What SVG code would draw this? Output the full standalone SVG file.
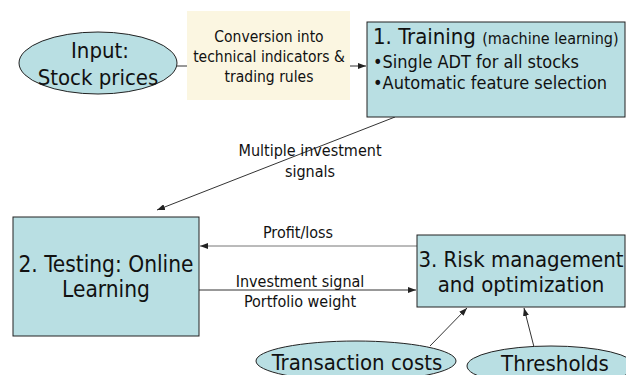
<svg xmlns="http://www.w3.org/2000/svg" width="626" height="375" viewBox="0 0 626 375">
  <style>
    text { font-family: "DejaVu Sans Condensed", "DejaVu Sans", sans-serif; font-stretch: condensed; fill: #111; }
    .node { fill: #b9dfe3; stroke: #222; stroke-width: 1; }
    .note { fill: #fbf6e1; stroke: none; }
    .edge { fill: none; stroke: #333; stroke-width: 1; }
    .edge-light { fill: none; stroke: #777; stroke-width: 1; }
    .mid { text-anchor: middle; }
    .label { font-size: 16px; }
  </style>
  <defs>
    <marker id="arrow" viewBox="0 0 8 6" refX="8" refY="3" markerWidth="8" markerHeight="6" markerUnits="userSpaceOnUse" orient="auto">
      <path d="M0,0 L8,3 L0,6 Z" fill="#222"/>
    </marker>
  </defs>

  <g id="connectors">
    <line class="edge" x1="177" y1="66" x2="187" y2="66"/>
    <line class="edge" x1="350" y1="66" x2="366" y2="66" marker-end="url(#arrow)"/>
    <line class="edge" x1="395" y1="117" x2="157" y2="210" marker-end="url(#arrow)"/>
    <line class="edge-light" x1="417" y1="246" x2="200" y2="246" marker-end="url(#arrow)"/>
    <line class="edge" x1="199" y1="290" x2="416" y2="290" marker-end="url(#arrow)"/>
    <line class="edge" x1="430" y1="346" x2="467" y2="308" marker-end="url(#arrow)"/>
    <line class="edge" x1="534" y1="347" x2="524" y2="308" marker-end="url(#arrow)"/>
    <text class="mid label" x="310" y="156">Multiple investment</text>
    <text class="mid label" x="310" y="177">signals</text>
    <text class="mid label" x="298" y="238">Profit/loss</text>
    <text class="mid label" x="300" y="287">Investment signal</text>
    <text class="mid label" x="300" y="307">Portfolio weight</text>
  </g>

  <g id="input">
    <ellipse class="node" cx="98" cy="63" rx="79" ry="31"/>
    <text class="mid" x="100" y="58" font-size="22">Input:</text>
    <text class="mid" x="98" y="85" font-size="22">Stock prices</text>
  </g>

  <g id="conversion">
    <rect class="note" x="187" y="11" width="163" height="89"/>
    <text class="mid" x="269" y="42" font-size="15.5">Conversion into</text>
    <text class="mid" x="269" y="62" font-size="15.5">technical indicators &amp;</text>
    <text class="mid" x="269" y="82" font-size="15.5">trading rules</text>
  </g>

  <g id="training">
    <rect class="node" x="367" y="22" width="258" height="95"/>
    <text x="373" y="44" font-size="22">1. Training <tspan font-size="16">(machine learning)</tspan></text>
    <text x="373" y="68" font-size="18">•Single ADT for all stocks</text>
    <text x="373" y="89" font-size="18">•Automatic feature selection</text>
  </g>

  <g id="testing">
    <rect class="node" x="13" y="217" width="186" height="119"/>
    <text class="mid" x="106" y="272" font-size="22.5">2. Testing: Online</text>
    <text class="mid" x="106" y="297" font-size="22.5">Learning</text>
  </g>

  <g id="risk">
    <rect class="node" x="417" y="235" width="208" height="72"/>
    <text class="mid" x="521" y="267" font-size="22">3. Risk management</text>
    <text class="mid" x="521" y="292" font-size="22">and optimization</text>
  </g>

  <g id="transaction-costs">
    <ellipse class="node" cx="356" cy="361" rx="100" ry="20"/>
    <text class="mid" x="357" y="370" font-size="22">Transaction costs</text>
  </g>

  <g id="thresholds">
    <ellipse class="node" cx="551" cy="366" rx="84" ry="20"/>
    <text class="mid" x="555" y="371" font-size="22">Thresholds</text>
  </g>
</svg>
